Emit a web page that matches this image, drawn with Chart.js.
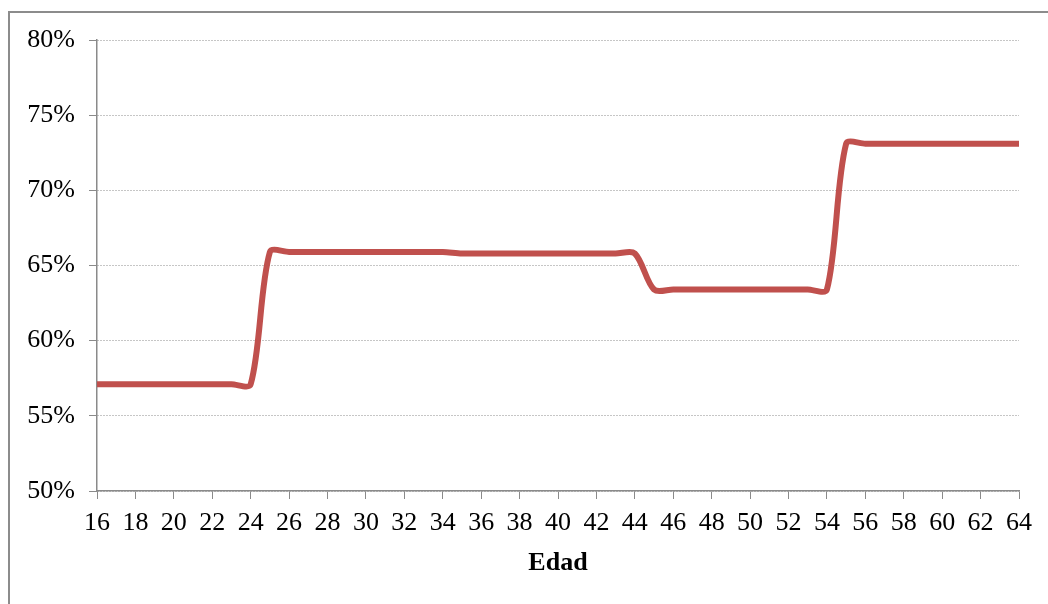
<!DOCTYPE html>
<html lang="es">
<head>
    <meta charset="UTF-8">
    <title>Edad</title>
    <script src="https://cdn.jsdelivr.net/npm/chart.js"></script>
    <style>
        body { margin: 0; background: #fff; }
        .frame {
            position: absolute; left: 8px; top: 11px;
            width: 1100px; height: 700px;
            border: 2px solid #8c8c8c;
        }
        #chart { position: absolute; left: 0; top: 0; }
    </style>
</head>
<body>
    <div class="frame"></div>
    <canvas id="chart" width="1048" height="604"></canvas>

    <script>
        // edades (eje X) y porcentaje por edad
        const ages = [16, 17, 18, 19, 20, 21, 22, 23, 24,
            25, 26, 27, 28, 29, 30, 31, 32, 33, 34,
            35, 36, 37, 38, 39, 40, 41, 42, 43, 44,
            45, 46, 47, 48, 49, 50, 51, 52, 53, 54,
            55, 56, 57, 58, 59, 60, 61, 62, 63, 64];
        const values = [57.1, 57.1, 57.1, 57.1, 57.1, 57.1, 57.1, 57.1, 57.1,
            65.9, 65.9, 65.9, 65.9, 65.9, 65.9, 65.9, 65.9, 65.9, 65.9,
            65.8, 65.8, 65.8, 65.8, 65.8, 65.8, 65.8, 65.8, 65.8, 65.8,
            63.4, 63.4, 63.4, 63.4, 63.4, 63.4, 63.4, 63.4, 63.4, 63.4,
            73.1, 73.1, 73.1, 73.1, 73.1, 73.1, 73.1, 73.1, 73.1, 73.1];
        const yTicks = [50, 55, 60, 65, 70, 75, 80];
        const xTitle = "Edad";

        const serif = "'Liberation Serif', 'Times New Roman', serif";
        const axisGray = "#8a8a8a";

        new Chart(document.getElementById("chart"), {
            type: "line",
            data: {
                datasets: [{
                    data: ages.map((a, i) => ({ x: a, y: values[i] })),
                    borderColor: "#c0504d",
                    borderWidth: 6,
                    pointRadius: 0,
                    tension: 0.3,
                    fill: false
                }]
            },
            options: {
                responsive: false,
                animation: false,
                devicePixelRatio: 1,
                layout: { padding: { left: 0, right: 29, top: 40, bottom: 0 } },
                plugins: { legend: { display: false }, tooltip: { enabled: false } },
                scales: {
                    x: {
                        type: "linear",
                        min: ages[0],
                        max: ages[ages.length - 1],
                        afterFit: (s) => { s.height = 113; },
                        ticks: {
                            stepSize: 2,
                            color: "#000",
                            padding: 9,
                            maxRotation: 0,
                            autoSkip: false,
                            font: { family: serif, size: 26 }
                        },
                        grid: {
                            drawOnChartArea: false,
                            tickLength: 8,
                            tickColor: axisGray
                        },
                        border: { color: axisGray, width: 1.5 },
                        title: {
                            display: true,
                            text: xTitle,
                            color: "#000",
                            padding: { top: 0, bottom: 25 },
                            font: { family: serif, size: 26, weight: "bold" }
                        }
                    },
                    y: {
                        min: yTicks[0],
                        max: yTicks[yTicks.length - 1],
                        afterFit: (s) => { s.width = 97; },
                        afterBuildTicks: (s) => { s.ticks = yTicks.map(v => ({ value: v })); },
                        ticks: {
                            color: "#000",
                            padding: 14,
                            font: { family: serif, size: 26 },
                            callback: (v) => v + "%"
                        },
                        grid: {
                            color: "#8c8c8c",
                            lineWidth: 1,
                            tickLength: 8,
                            tickColor: axisGray,
                            tickBorderDash: []
                        },
                        border: { color: axisGray, width: 1.5, dash: [1, 2] }
                    }
                }
            }
        });
    </script>
</body>
</html>
